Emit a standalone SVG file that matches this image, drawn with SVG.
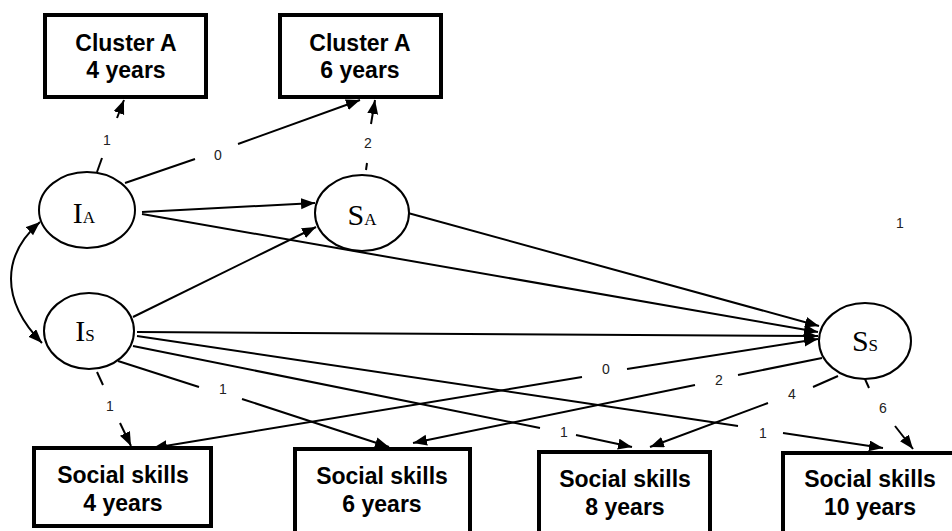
<svg xmlns="http://www.w3.org/2000/svg" width="952" height="531" viewBox="0 0 952 531">
<style>
.box{fill:#fff;stroke:#000;stroke-width:4}
.ell{fill:#fff;stroke:#000;stroke-width:2}
.bt{font-family:"Liberation Sans",Arial,sans-serif;font-weight:bold;font-size:23px;text-anchor:middle;fill:#000}
.et{font-family:"Liberation Serif","Times New Roman",serif;font-size:30px;text-anchor:middle;fill:#000}
.sub{font-size:17px}
.lb{font-family:"Liberation Sans",Arial,sans-serif;font-size:14px;text-anchor:middle;fill:#222}
.ln{fill:none;stroke:#000;stroke-width:2}
.ar{marker-end:url(#ah)}
</style>
<defs>
<marker id="ah" markerUnits="userSpaceOnUse" markerWidth="15" markerHeight="12" refX="14" refY="5.5" orient="auto-start-reverse">
<path d="M0,0 L14,5.5 L0,11 z" fill="#000"/>
</marker>
</defs>
<g id="connectors">
<path class="ln" d="M97,172 L102,158"/>
<path class="ln ar" d="M117,118 L124,100"/>
<path class="ln" d="M125,183 L195,159"/>
<path class="ln ar" d="M238,144 L360,100"/>
<path class="ln" d="M366,170 L367,163"/>
<path class="ln ar" d="M371,124 L375,100"/>
<path class="ln ar" d="M142,212 L315,203"/>
<path class="ln ar" d="M142,214 L818,332"/>
<path class="ln ar" d="M408,213 L819,326"/>
<path class="ln ar" d="M133,317 L316,227"/>
<path class="ln ar" d="M137,332 L818,336"/>
<path class="ln" d="M40,222 C2,255 0,300 42,343" marker-start="url(#ah)" marker-end="url(#ah)"/>
<path class="ln" d="M97,372 L103,385"/>
<path class="ln ar" d="M120,423 L131,446"/>
<path class="ln" d="M118,361 L199,387"/>
<path class="ln ar" d="M242,399 L389,447"/>
<path class="ln" d="M133,346 L540,428"/>
<path class="ln ar" d="M576,435 L632,447"/>
<path class="ln" d="M137,336 L738,426"/>
<path class="ln ar" d="M783,433 L883,448"/>
<path class="ln" d="M153,448 L582,377" marker-start="url(#ah)"/>
<path class="ln ar" d="M627,369 L818,339"/>
<path class="ln" d="M822,358 L738,375"/>
<path class="ln ar" d="M695,385 L413,443"/>
<path class="ln" d="M838,376 L813,387"/>
<path class="ln ar" d="M768,403 L650,447"/>
<path class="ln" d="M865,379 L869,388"/>
<path class="ln ar" d="M895,426 L913,449"/>
</g>
<g id="labels">
<text class="lb" x="107" y="145">1</text>
<text class="lb" x="218" y="160">0</text>
<text class="lb" x="368" y="148">2</text>
<text class="lb" x="110" y="411">1</text>
<text class="lb" x="223" y="394">1</text>
<text class="lb" x="564" y="437">1</text>
<text class="lb" x="763" y="438">1</text>
<text class="lb" x="606" y="374">0</text>
<text class="lb" x="719" y="385">2</text>
<text class="lb" x="792" y="399">4</text>
<text class="lb" x="883" y="413">6</text>
<text class="lb" x="900" y="228">1</text>
</g>
<g id="clusterA4">
<rect class="box" x="45" y="15" width="161" height="82"/>
<text class="bt" x="126" y="51">Cluster A</text>
<text class="bt" x="126" y="78">4 years</text>
</g>
<g id="clusterA6">
<rect class="box" x="280" y="15" width="161" height="82"/>
<text class="bt" x="360" y="51">Cluster A</text>
<text class="bt" x="360" y="78">6 years</text>
</g>
<g id="IA">
<ellipse class="ell" cx="87" cy="210" rx="48" ry="38"/>
<text class="et" x="84" y="223">I<tspan class="sub">A</tspan></text>
</g>
<g id="SA">
<ellipse class="ell" cx="362" cy="213" rx="47" ry="38"/>
<text class="et" x="362" y="225">S<tspan class="sub">A</tspan></text>
</g>
<g id="IS">
<ellipse class="ell" cx="89" cy="331" rx="45" ry="38"/>
<text class="et" x="85" y="341">I<tspan class="sub">S</tspan></text>
</g>
<g id="SS">
<ellipse class="ell" cx="865" cy="341" rx="46" ry="38"/>
<text class="et" x="865" y="351">S<tspan class="sub">S</tspan></text>
</g>
<g id="social4">
<rect class="box" x="34" y="448" width="177" height="78"/>
<text class="bt" x="123" y="483">Social skills</text>
<text class="bt" x="123" y="511">4 years</text>
</g>
<g id="social6">
<rect class="box" x="295" y="449" width="175" height="85"/>
<text class="bt" x="382" y="484">Social skills</text>
<text class="bt" x="382" y="512">6 years</text>
</g>
<g id="social8">
<rect class="box" x="539" y="452" width="171" height="85"/>
<text class="bt" x="625" y="487">Social skills</text>
<text class="bt" x="625" y="515">8 years</text>
</g>
<g id="social10">
<rect class="box" x="783" y="453" width="180" height="85"/>
<text class="bt" x="870" y="487">Social skills</text>
<text class="bt" x="870" y="515">10 years</text>
</g>
</svg>
